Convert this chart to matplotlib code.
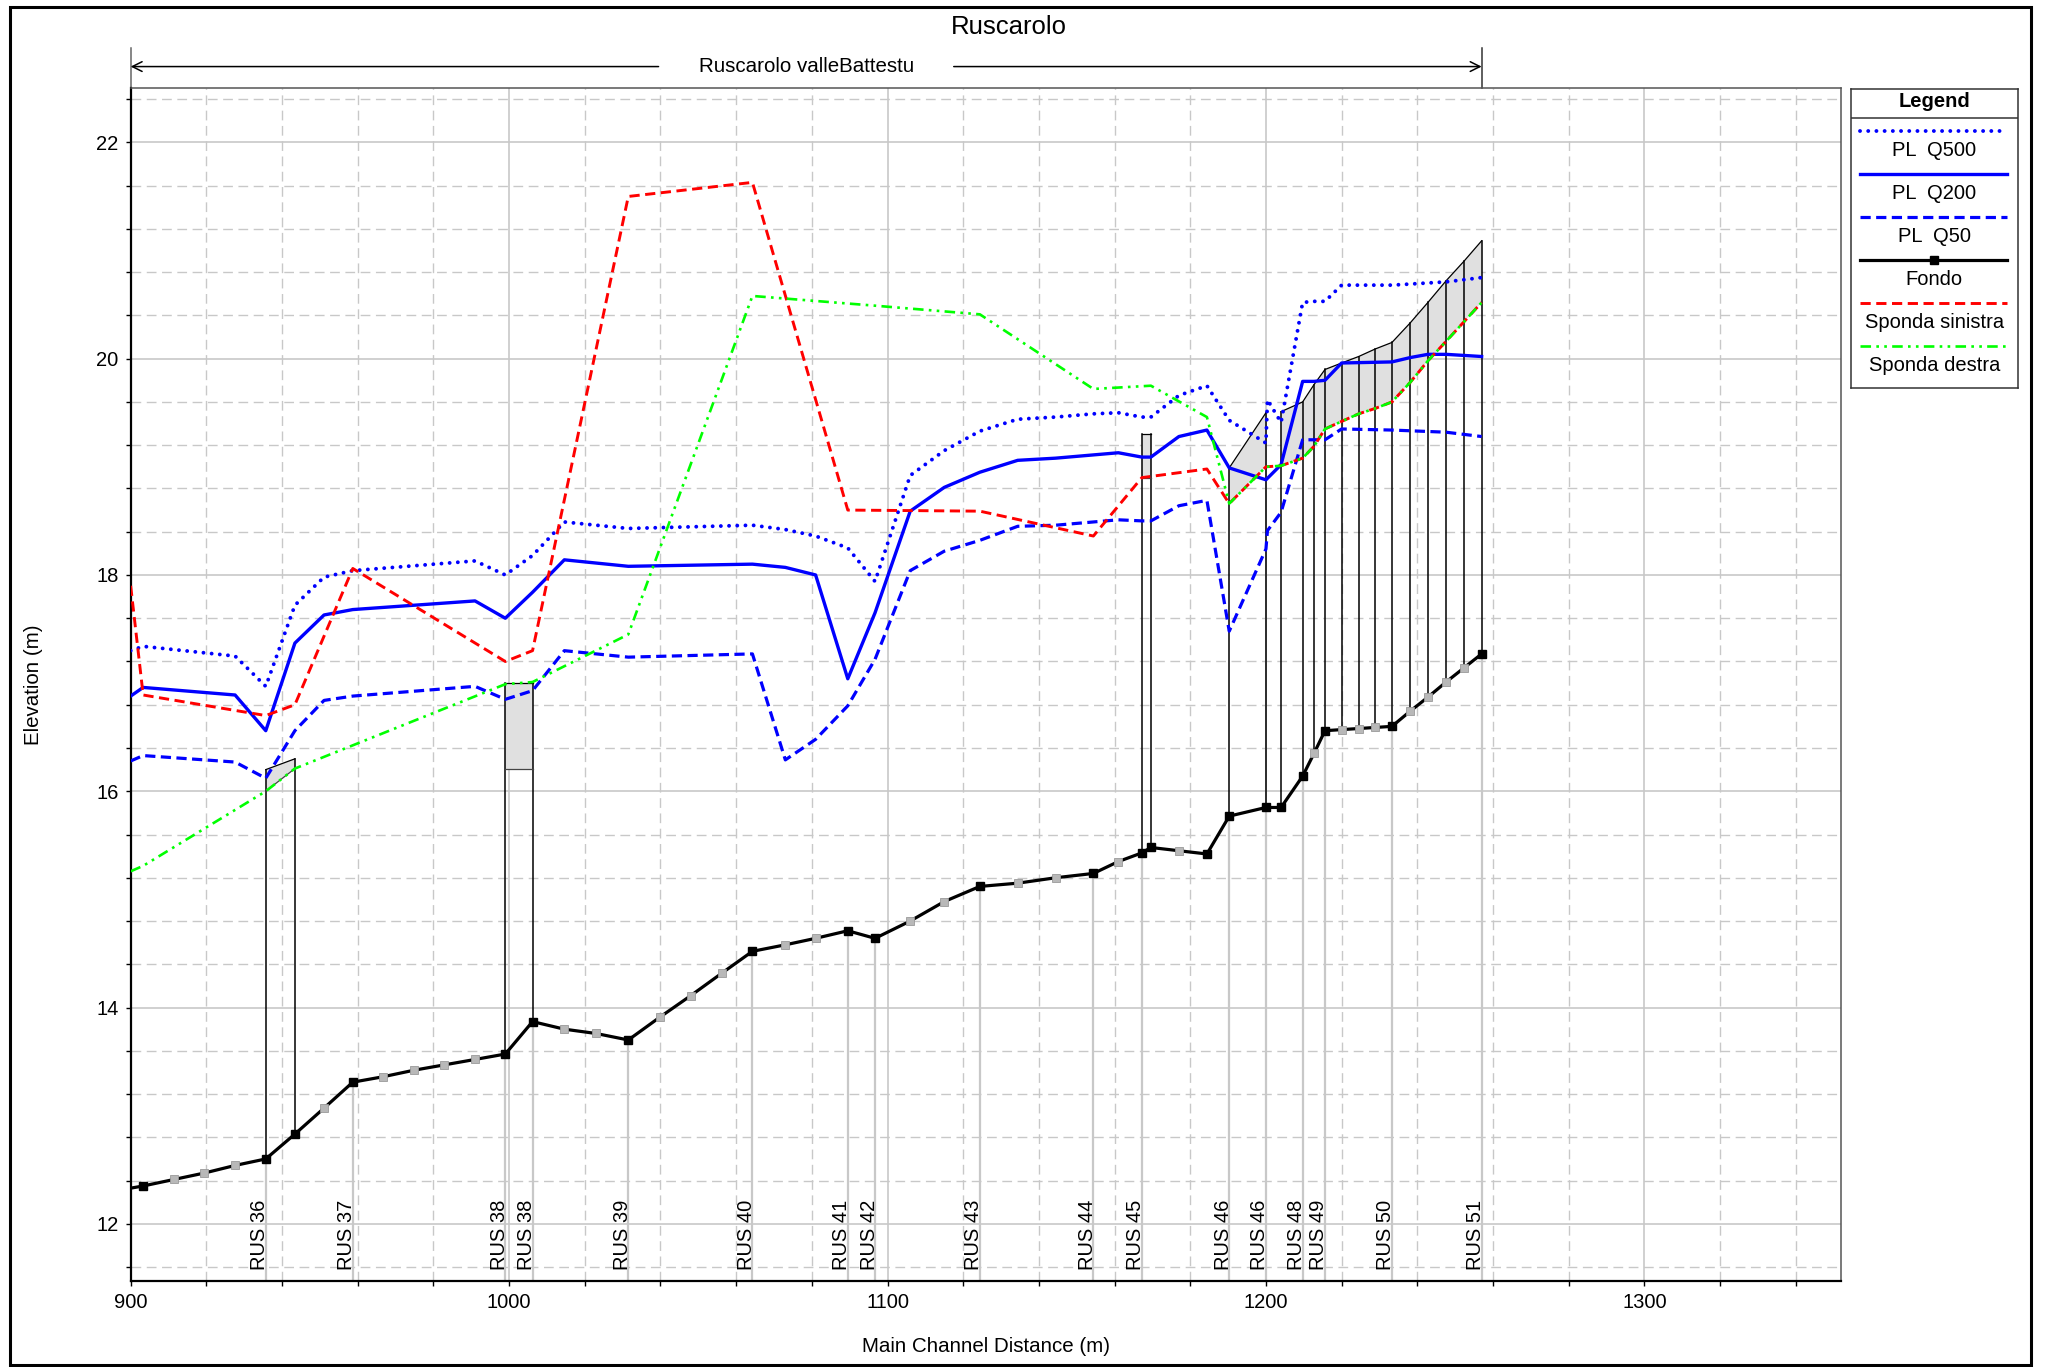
import matplotlib
matplotlib.use('Agg')
import matplotlib.pyplot as plt
import matplotlib.patches as mpatches
from matplotlib.transforms import blended_transform_factory
import numpy as np

plt.rcParams['font.family'] = ['Liberation Sans', 'DejaVu Sans']

# ---------------- data ----------------
bed_x = [900.0, 903.3, 911.4, 919.5, 927.6, 935.7, 943.4, 951.1, 958.7, 966.7, 974.8, 982.9,
         991.0, 999.0, 1006.2, 1014.6, 1023.0, 1031.5, 1039.8, 1048.0, 1056.3, 1064.3, 1073.0,
         1081.0, 1089.5, 1096.7, 1106.0, 1115.0, 1124.4, 1134.4, 1144.4, 1154.4, 1161.0, 1167.2,
         1169.6, 1177.0, 1184.4, 1190.3, 1200.0, 1204.0, 1209.7, 1212.7, 1215.6, 1220.0, 1224.5,
         1228.9, 1233.3, 1238.1, 1242.8, 1247.6, 1252.3, 1257.0]
bed_y = [12.33, 12.35, 12.41, 12.47, 12.54, 12.60, 12.83, 13.07, 13.31, 13.36, 13.42, 13.47,
         13.52, 13.57, 13.87, 13.80, 13.76, 13.70, 13.91, 14.11, 14.32, 14.52, 14.58,
         14.64, 14.71, 14.64, 14.80, 14.98, 15.12, 15.15, 15.20, 15.24, 15.35, 15.43,
         15.48, 15.45, 15.42, 15.77, 15.85, 15.85, 16.14, 16.35, 16.56, 16.57, 16.58,
         16.59, 16.60, 16.74, 16.87, 17.01, 17.14, 17.27]
# 1 = surveyed cross section (black marker), 0 = interpolated (grey marker), -1 = none
bed_kind = [-1, 1, 0, 0, 0, 1, 1, 0, 1, 0, 0, 0,
            0, 1, 1, 0, 0, 1, 0, 0, 0, 1, 0,
            0, 1, 1, 0, 0, 1, 0, 0, 1, 0, 1,
            1, 0, 1, 1, 1, 1, 1, 0, 1, 0, 0,
            0, 1, 0, 0, 0, 0, 1]

q500_x = [900.0, 903.3, 927.6, 935.7, 943.4, 951.1, 958.7, 991.0, 999.0, 1006.2, 1014.6, 1031.5,
          1064.3, 1073.0, 1081.0, 1089.5, 1096.7, 1106.0, 1115.0, 1124.4, 1134.4, 1144.4, 1154.4,
          1161.0, 1167.2, 1169.6, 1177.0, 1184.4, 1190.3, 1200.0, 1200.4, 1204.0, 1209.7, 1212.7,
          1215.6, 1220.0, 1233.3, 1242.8, 1247.6, 1257.0]
q500_y = [17.30, 17.34, 17.25, 16.97, 17.72, 17.98, 18.04, 18.13, 18.00, 18.18, 18.49, 18.43,
          18.46, 18.42, 18.36, 18.25, 17.94, 18.92, 19.15, 19.33, 19.44, 19.46, 19.49,
          19.50, 19.46, 19.46, 19.66, 19.75, 19.43, 19.22, 19.62, 19.41, 20.52, 20.53,
          20.53, 20.68, 20.68, 20.70, 20.71, 20.75]

q200_x = [900.0, 903.3, 927.6, 935.7, 943.4, 951.1, 958.7, 991.0, 999.0, 1006.2, 1014.6, 1031.5,
          1064.3, 1073.0, 1081.0, 1089.5, 1096.7, 1106.0, 1115.0, 1124.4, 1134.4, 1144.4, 1161.0,
          1167.2, 1169.6, 1177.0, 1184.4, 1190.3, 1200.0, 1204.0, 1209.7, 1212.7, 1215.6, 1220.0,
          1233.3, 1238.1, 1242.8, 1247.6, 1257.0]
q200_y = [16.88, 16.96, 16.89, 16.56, 17.37, 17.63, 17.68, 17.76, 17.60, 17.84, 18.14, 18.08,
          18.10, 18.07, 18.00, 17.04, 17.65, 18.59, 18.81, 18.95, 19.06, 19.08, 19.13,
          19.09, 19.09, 19.28, 19.34, 18.99, 18.88, 19.02, 19.79, 19.79, 19.80, 19.96,
          19.97, 20.01, 20.04, 20.04, 20.02]

q50_x = [900.0, 903.3, 927.6, 935.7, 943.4, 951.1, 958.7, 991.0, 999.0, 1006.2, 1014.6, 1031.5,
         1064.3, 1073.0, 1081.0, 1089.5, 1096.7, 1106.0, 1115.0, 1124.4, 1134.4, 1144.4, 1161.0,
         1167.2, 1169.6, 1177.0, 1184.4, 1190.3, 1200.0, 1200.4, 1204.0, 1209.7, 1215.6, 1220.0,
         1233.3, 1247.6, 1257.0]
q50_y = [16.28, 16.33, 16.27, 16.12, 16.56, 16.84, 16.88, 16.97, 16.85, 16.93, 17.30, 17.24,
         17.27, 16.29, 16.48, 16.79, 17.22, 18.04, 18.22, 18.32, 18.45, 18.46, 18.51,
         18.50, 18.50, 18.64, 18.69, 17.48, 18.24, 18.41, 18.58, 19.25, 19.25, 19.35,
         19.34, 19.32, 19.28]

left_bank_x = [900.0, 903.3, 935.7, 943.4, 958.7, 999.0, 1006.2, 1031.5, 1064.3, 1089.5, 1124.4,
               1154.4, 1167.2, 1184.4, 1190.3, 1200.0, 1204.0, 1209.7, 1212.7, 1215.6, 1220.0,
               1224.5, 1228.9, 1233.3, 1238.1, 1242.8, 1247.6, 1252.3, 1257.0]
left_bank_y = [17.90, 16.89, 16.70, 16.80, 18.06, 17.20, 17.30, 21.50, 21.63, 18.60, 18.59,
               18.36, 18.90, 18.98, 18.66, 19.00, 19.01, 19.08, 19.19, 19.35, 19.42,
               19.49, 19.54, 19.60, 19.78, 19.98, 20.16, 20.34, 20.52]

right_bank_x = [900.0, 903.3, 935.7, 943.4, 999.0, 1006.2, 1031.5, 1064.3, 1096.7, 1124.4,
                1154.4, 1169.6, 1184.4, 1190.3, 1200.0, 1204.0, 1209.7, 1212.7, 1215.6, 1220.0,
                1224.5, 1228.9, 1233.3, 1238.1, 1242.8, 1247.6, 1252.3, 1257.0]
right_bank_y = [15.26, 15.31, 16.00, 16.21, 16.99, 17.01, 17.45, 20.58, 20.49, 20.41,
                19.72, 19.75, 19.46, 18.66, 19.00, 19.01, 19.08, 19.19, 19.35, 19.42,
                19.49, 19.54, 19.60, 19.78, 19.98, 20.16, 20.34, 20.52]

# culverts / covered reaches: stations, top chord, low chord
culv1_x = [935.7, 943.4]
culv1_top = [16.20, 16.30]
culv1_low = [16.00, 16.21]
culv2_x = [999.0, 1006.2]
culv2_top = [17.00, 17.00]
culv2_low = [16.21, 16.21]
culv3_x = [1167.2, 1169.6]
culv3_top = [19.30, 19.30]
culv3_low = [18.90, 18.90]
culv4_x = [1190.3, 1200.0]
culv4_top = [18.99, 19.50]
culv4_low = [18.66, 19.00]
culv5_x = [1204.0, 1209.7, 1212.7, 1215.6, 1220.0, 1224.5, 1228.9, 1233.3, 1238.1, 1242.8,
           1247.6, 1252.3, 1257.0]
culv5_top = [19.51, 19.60, 19.76, 19.90, 19.96, 20.02, 20.09, 20.15, 20.33, 20.52,
             20.72, 20.90, 21.09]
culv5_low = [19.01, 19.08, 19.19, 19.35, 19.42, 19.49, 19.54, 19.60, 19.78, 19.98,
             20.16, 20.34, 20.52]

section_names = ['RUS 36', 'RUS 37', 'RUS 38', 'RUS 38', 'RUS 39', 'RUS 40', 'RUS 41', 'RUS 42',
                 'RUS 43', 'RUS 44', 'RUS 45', 'RUS 46', 'RUS 46', 'RUS 48', 'RUS 49', 'RUS 50',
                 'RUS 51']
section_x = [935.7, 958.7, 999.0, 1006.2, 1031.5, 1064.3, 1089.5, 1096.7, 1124.4, 1154.4,
             1167.2, 1190.3, 1200.0, 1209.7, 1215.6, 1233.3, 1257.0]

reach_name = 'Ruscarolo valleBattestu'
reach_start, reach_end = 900.0, 1257.0

legend_labels = ['PL  Q500', 'PL  Q200', 'PL  Q50', 'Fondo', 'Sponda sinistra', 'Sponda destra']

# ---------------- styles ----------------
BLUE, RED, GREEN = '#0000ff', '#ff0000', '#00ff00'
styles = [
    dict(color=BLUE, lw=2.8, ls=(0, (0.01, 2.1)), dash_capstyle='round'),
    dict(color=BLUE, lw=2.4, ls='-'),
    dict(color=BLUE, lw=2.3, ls=(0, (3.2, 1.7))),
    dict(color='black', lw=2.3, ls='-'),
    dict(color=RED, lw=2.1, ls=(0, (3.5, 1.9))),
    dict(color=GREEN, lw=1.9, ls=(0, (4, 2, 1, 2, 1, 2))),
]
GRID = '#c8c8c8'
XMIN, XMAX, YMIN, YMAX = 900, 1352, 11.47, 22.5

fig = plt.figure(figsize=(20.48, 13.67), dpi=100)
ax = fig.add_axes([0.0638, 0.0628, 0.8352, 0.8726])
ax.set_xlim(XMIN, XMAX)
ax.set_ylim(YMIN, YMAX)

ax.set_xticks(np.arange(900, 1301, 100))
ax.set_xticks(np.arange(900, XMAX, 20), minor=True)
ax.set_yticks(np.arange(12, 23, 2))
ax.set_yticks(np.arange(11.6, 22.5, 0.4), minor=True)
ax.grid(which='major', color=GRID, lw=1.2, ls='-', zorder=0)
ax.grid(which='minor', color=GRID, lw=1.0, ls=(0, (7, 4)), zorder=0)
ax.set_axisbelow(True)
ax.tick_params(which='both', direction='out', length=3.8, width=1, labelsize=14.5, pad=5)
ax.tick_params(which='minor', labelbottom=False, labelleft=False)
ax.yaxis.set_major_formatter(matplotlib.ticker.FormatStrFormatter('%d'))
for s in ['left', 'bottom']:
    ax.spines[s].set_color('black')
    ax.spines[s].set_linewidth(1.6)
for s in ['top', 'right']:
    ax.spines[s].set_color('#555555')
    ax.spines[s].set_linewidth(1.1)

bed_interp = lambda x: np.interp(x, bed_x, bed_y)

# section reference lines (light grey) from bottom to bed
for sx in section_x:
    ax.plot([sx, sx], [YMIN, bed_interp(sx)], color=GRID, lw=1.6, zorder=1)

# culverts
for cx, ct, cl in [(culv1_x, culv1_top, culv1_low), (culv2_x, culv2_top, culv2_low),
                   (culv3_x, culv3_top, culv3_low), (culv4_x, culv4_top, culv4_low),
                   (culv5_x, culv5_top, culv5_low)]:
    verts = list(zip(cx, ct)) + list(zip(cx[::-1], cl[::-1]))
    ax.add_patch(mpatches.Polygon(verts, closed=True, facecolor='#e0e0e0', edgecolor='none', zorder=2))
    ax.plot(cx, ct, color='black', lw=0.9, zorder=3)
    for x0, t in zip(cx, ct):
        ax.plot([x0, x0], [bed_interp(x0), t], color='black', lw=1.1, zorder=3)
# box outline bottoms of the small bridges
for cx, cl in [(culv1_x, culv1_low), (culv2_x, culv2_low), (culv3_x, culv3_low)]:
    ax.plot(cx, cl, color='#444444', lw=0.9, zorder=3)

# series
ax.plot(q500_x, q500_y, zorder=5, **styles[0])
ax.plot(q200_x, q200_y, zorder=5, **styles[1])
ax.plot(q50_x, q50_y, zorder=5, **styles[2])
ax.plot(left_bank_x, left_bank_y, zorder=6, **styles[4])
ax.plot(right_bank_x, right_bank_y, zorder=6, **styles[5])
ax.plot(bed_x, bed_y, zorder=7, **styles[3])
bx = np.array(bed_x); by = np.array(bed_y); bk = np.array(bed_kind)
ax.plot(bx[bk == 0], by[bk == 0], ls='none', marker='s', ms=5.2, mfc='#b8b8b8', mec='#9a9a9a',
        mew=0.6, zorder=8)
ax.plot(bx[bk == 1], by[bk == 1], ls='none', marker='s', ms=5.2, mfc='black', mec='black', zorder=8)

# section labels
for name, sx in zip(section_names, section_x):
    ax.annotate(name, xy=(sx, YMIN), xytext=(2.5, 8.3), textcoords='offset points',
                rotation=90, ha='right', va='bottom', fontsize=14.5, zorder=9)

# axis labels and title
ax_pos = ax.get_position()
fig.text((ax_pos.x0 + ax_pos.x1) / 2, 0.0149, 'Main Channel Distance (m)', ha='center',
         va='center', fontsize=14.8)
fig.text(0.0166, (ax_pos.y0 + ax_pos.y1) / 2, 'Elevation (m)', rotation=90, ha='center',
         va='center', fontsize=14.8)
fig.text(0.4925, 0.9800, 'Ruscarolo', ha='center', va='center', fontsize=18.5)

# reach annotation above the axes
trans = blended_transform_factory(ax.transData, fig.transFigure)
y_arrow = 0.9513
mid = (reach_start + reach_end) / 2
gap = 39
ax.annotate('', xy=(reach_start, y_arrow), xycoords=trans, xytext=(mid - gap, y_arrow),
            textcoords=trans, arrowprops=dict(arrowstyle='->,head_length=0.7,head_width=0.35',
                                              color='black', lw=1.1, shrinkA=0, shrinkB=0))
ax.annotate('', xy=(reach_end, y_arrow), xycoords=trans, xytext=(mid + gap, y_arrow),
            textcoords=trans, arrowprops=dict(arrowstyle='->,head_length=0.7,head_width=0.35',
                                              color='black', lw=1.1, shrinkA=0, shrinkB=0))
ax.text(mid, y_arrow, reach_name, transform=trans, ha='center', va='center', fontsize=14.8)
for xe, col in [(reach_start, '#666666'), (reach_end, '#333333')]:
    ax.plot([xe, xe], [0.9354, 0.9649], transform=trans, color=col, lw=1.1, clip_on=False)

# legend box (drawn manually)
lax = fig.add_axes([0.9037, 0.7162, 0.0816, 0.2188])
lax.set_xlim(0, 128)
lax.set_ylim(229, 0)
lax.set_xticks([]); lax.set_yticks([])
for s in lax.spines.values():
    s.set_color('#333333'); s.set_linewidth(1.1)
lax.text(64, 10, 'Legend', ha='center', va='center', fontsize=14.5, fontweight='bold')
lax.plot([0, 128], [22, 22], color='#333333', lw=1.1)
for i, (lab, st) in enumerate(zip(legend_labels, styles)):
    yl = 32.5 + 32.9 * i
    lax.plot([7, 120], [yl, yl], **st)
    if lab == 'Fondo':
        lax.plot([63.5], [yl], marker='s', ms=5.2, color='black')
    lax.text(64, yl + 15, lab, ha='center', va='center', fontsize=14.5)

# figure border
fig.patches.append(mpatches.Rectangle((0.0051, 0.0015), 0.9866, 0.9937, transform=fig.transFigure,
                                      fill=False, edgecolor='black', lw=2.2))

fig.savefig('out.png', dpi=100)
